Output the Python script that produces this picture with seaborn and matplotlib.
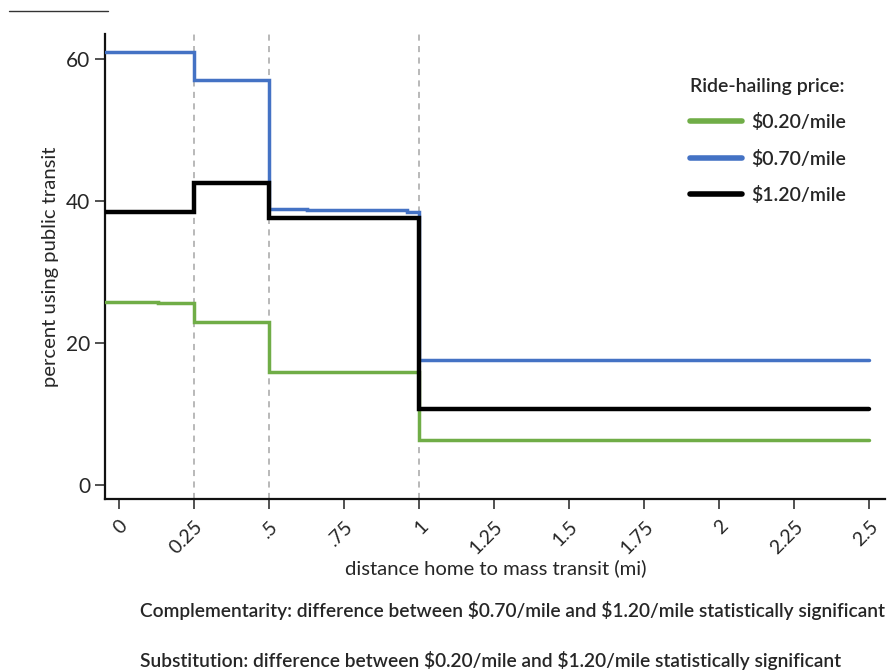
import numpy as np
import pandas as pd
import seaborn as sns
import matplotlib
matplotlib.use("Agg")
import matplotlib.pyplot as plt
from matplotlib.lines import Line2D

# ---- data ----
series_names = ["$0.20/mile", "$0.70/mile", "$1.20/mile"]
dist_green = [-0.045, 0.13, 0.25, 0.5, 1.0, 2.5]
pct_green = [25.8, 25.6, 23.0, 15.9, 6.4, 6.4]
dist_blue = [-0.045, 0.25, 0.5, 0.625, 0.96, 1.0, 2.5]
pct_blue = [60.9, 57.1, 38.9, 38.7, 38.4, 17.6, 17.6]
dist_black = [-0.045, 0.25, 0.5, 1.0, 2.5]
pct_black = [38.4, 42.5, 37.6, 10.7, 10.7]
cutoffs = [0.25, 0.5, 1.0]
xticks = [0, 0.25, 0.5, 0.75, 1, 1.25, 1.5, 1.75, 2, 2.25, 2.5]
xtick_labels = ["0", "0.25", ".5", ".75", "1", "1.25", "1.5", "1.75", "2", "2.25", "2.5"]
yticks = [0, 20, 40, 60]
note1 = "Complementarity: difference between $0.70/mile and $1.20/mile statistically significant"
note2 = "Substitution: difference between $0.20/mile and $1.20/mile statistically significant"

df = pd.concat([
    pd.DataFrame({"dist": dist_green, "pct": pct_green, "price": series_names[0]}),
    pd.DataFrame({"dist": dist_blue, "pct": pct_blue, "price": series_names[1]}),
    pd.DataFrame({"dist": dist_black, "pct": pct_black, "price": series_names[2]}),
], ignore_index=True)

sns.set_style("ticks")
plt.rcParams["font.family"] = ["Lato", "DejaVu Sans"]

palette = {series_names[0]: "#70AD47", series_names[1]: "#4472C4", series_names[2]: "#000000"}

fig = plt.figure(figsize=(8.94, 6.71), dpi=100)
ax = fig.add_axes([0.118, 0.2556, 0.872, 0.6937])

for c in cutoffs:
    ax.axvline(c, color="#A6A6A6", lw=1.1, ls=(0, (4, 3.5)), zorder=1)

sns.lineplot(data=df, x="dist", y="pct", hue="price", hue_order=series_names,
             palette=palette, drawstyle="steps-post", estimator=None, sort=False,
             ax=ax, legend=True, zorder=3)
lws = [2.5, 2.5, 3.2]
for line, lw in zip(ax.get_lines()[len(cutoffs):], lws):
    line.set_linewidth(lw)
    line.set_solid_joinstyle("miter")

ax.set_xlim(-0.045, 2.552)
ax.set_ylim(-2.0, 63.5)
ax.set_xticks(xticks)
ax.set_xticklabels(xtick_labels, rotation=45, ha="right", rotation_mode="anchor", fontsize=14)
ax.set_yticks(yticks)
ax.set_yticklabels([str(v) for v in yticks], fontsize=15)
ax.tick_params(axis="both", direction="out", length=7, width=1.1, color="#222222", pad=4)
ax.tick_params(axis="x", pad=6)
for s in ["top", "right"]:
    ax.spines[s].set_visible(False)
for s in ["left", "bottom"]:
    ax.spines[s].set_linewidth(1.6)
    ax.spines[s].set_color("#111111")

ax.set_xlabel("distance home to mass transit (mi)", fontsize=14.6, labelpad=2)
ax.set_ylabel("percent using public transit", fontsize=14.6, labelpad=5)

handles, labels = ax.get_legend_handles_labels()
for h in handles:
    h.set_linewidth(4)
leg = ax.legend(handles, labels, title="Ride-hailing price:", frameon=False,
                loc="upper left", bbox_to_anchor=(676 / 894, 1 - 64 / 671),
                bbox_transform=fig.transFigure, fontsize=14, title_fontsize=14,
                handlelength=2.7, handletextpad=0.45, labelspacing=0.95,
                alignment="left", borderpad=0.2)
for t in leg.get_texts():
    t.set_fontweight("semibold")
leg.get_title().set_fontweight("semibold")

fig.add_artist(Line2D([9 / 894, 108 / 894], [1 - 11 / 671, 1 - 11 / 671],
                      color="#333333", lw=1.0, transform=fig.transFigure))

fig.text(140 / 894, 1 - 611 / 671, note1, fontsize=13.8, fontweight="semibold",
         va="center", ha="left", parse_math=False)
fig.text(140 / 894, 1 - 661 / 671, note2, fontsize=13.8, fontweight="semibold",
         va="center", ha="left", parse_math=False)

fig.savefig("out.png", dpi=100)
